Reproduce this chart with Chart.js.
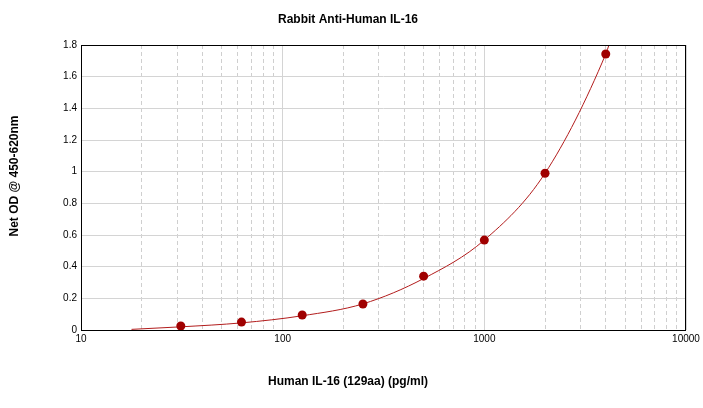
<!DOCTYPE html>
<html>
<head>
<meta charset="utf-8">
<script src="https://cdn.jsdelivr.net/npm/chart.js@4.4.1/dist/chart.umd.min.js"></script>
<style>
  html, body { margin: 0; padding: 0; background: #fff; }
  canvas { display: block; }
</style>
</head>
<body>
<canvas id="chart" width="703" height="408"></canvas>
<script>
// Standards (pg/ml) and measured net OD
const concentrations = [31.25, 62.5, 125, 250, 500, 1000, 2000, 4000];
const netOD = [0.025, 0.05, 0.095, 0.164, 0.34, 0.568, 0.99, 1.743];

// Fitted curve
const curveX = [17.8, 31.25, 62.5, 125, 250, 500, 1000, 2000, 4000, 4150];
const curveY = [0.004, 0.02, 0.045, 0.09, 0.165, 0.325, 0.568, 0.99, 1.743, 1.8];

// Axis ticks
const xMajorTicks = [10, 100, 1000, 10000];
const xGridTicks = [10, 20, 30, 40, 50, 60, 70, 80, 90,
  100, 200, 300, 400, 500, 600, 700, 800, 900,
  1000, 2000, 3000, 4000, 5000, 6000, 7000, 8000, 9000, 10000];
const yTicks = [0, 0.2, 0.4, 0.6, 0.8, 1, 1.2, 1.4, 1.6, 1.8];

const chartTitle = 'Rabbit Anti-Human IL-16';
const xTitle = 'Human IL-16 (129aa) (pg/ml)';
const yTitle = 'Net OD @ 450-620nm';

const FONT = '"Liberation Sans", Arial, sans-serif';

// Frame around the plot area plus the three titles
const frameAndTitles = {
  id: 'frameAndTitles',
  afterDraw(chart) {
    const { ctx, chartArea: a } = chart;
    ctx.save();
    ctx.strokeStyle = '#000';
    ctx.lineWidth = 1;
    ctx.strokeRect(a.left + 0.5, a.top + 0.5, a.right - a.left - 1, a.bottom - a.top);

    ctx.fillStyle = '#000';
    ctx.font = 'bold 12px ' + FONT;
    ctx.textAlign = 'center';
    ctx.textBaseline = 'middle';
    ctx.fillText(chartTitle, 348, 20);
    ctx.fillText(xTitle, 348, 382);

    ctx.translate(15, 176);
    ctx.rotate(-Math.PI / 2);
    ctx.fillText(yTitle, 0, 0);
    ctx.restore();
  }
};

new Chart(document.getElementById('chart'), {
  type: 'scatter',
  data: {
    datasets: [
      {
        label: 'Standards',
        data: concentrations.map((x, i) => ({ x, y: netOD[i] })),
        backgroundColor: '#a00000',
        borderColor: '#a00000',
        pointRadius: 4.5,
        pointBorderWidth: 0,
        showLine: false,
      },
      {
        label: 'Fit',
        data: curveX.map((x, i) => ({ x, y: curveY[i] })),
        borderColor: '#b21c1c',
        borderWidth: 1,
        pointRadius: 0,
        showLine: true,
        cubicInterpolationMode: 'monotone',
      },
    ],
  },
  options: {
    responsive: false,
    animation: false,
    devicePixelRatio: 1,
    layout: { padding: { top: 45, right: 17, left: 0, bottom: 0 } },
    plugins: {
      legend: { display: false },
      tooltip: { enabled: false },
      title: { display: false },
    },
    scales: {
      x: {
        type: 'logarithmic',
        min: 10,
        max: 10000,
        afterBuildTicks: (scale) => { scale.ticks = xGridTicks.map(v => ({ value: v })); },
        afterFit: (scale) => { scale.height = 78; },
        ticks: {
          autoSkip: false,
          maxRotation: 0,
          padding: 3,
          color: '#000',
          font: { family: FONT, size: 10 },
          callback: (v) => xMajorTicks.includes(v) ? String(v) : '',
        },
        grid: {
          drawTicks: false,
          color: (ctx) => (ctx.tick && !xMajorTicks.includes(ctx.tick.value)) ? '#cfcfcf' : '#d4d4d4',
          lineWidth: 1,
        },
        border: {
          display: false,
          dash: (ctx) => (ctx.tick && !xMajorTicks.includes(ctx.tick.value)) ? [4, 3] : [],
        },
      },
      y: {
        min: 0,
        max: 1.8,
        afterBuildTicks: (scale) => { scale.ticks = yTicks.map(v => ({ value: v })); },
        afterFit: (scale) => { scale.width = 81; },
        ticks: {
          padding: 4,
          color: '#000',
          font: { family: FONT, size: 10 },
          callback: (v) => String(v),
        },
        grid: {
          drawTicks: false,
          color: '#d4d4d4',
          lineWidth: 1,
        },
        border: { display: false },
      },
    },
  },
  plugins: [frameAndTitles],
});
</script>
</body>
</html>
